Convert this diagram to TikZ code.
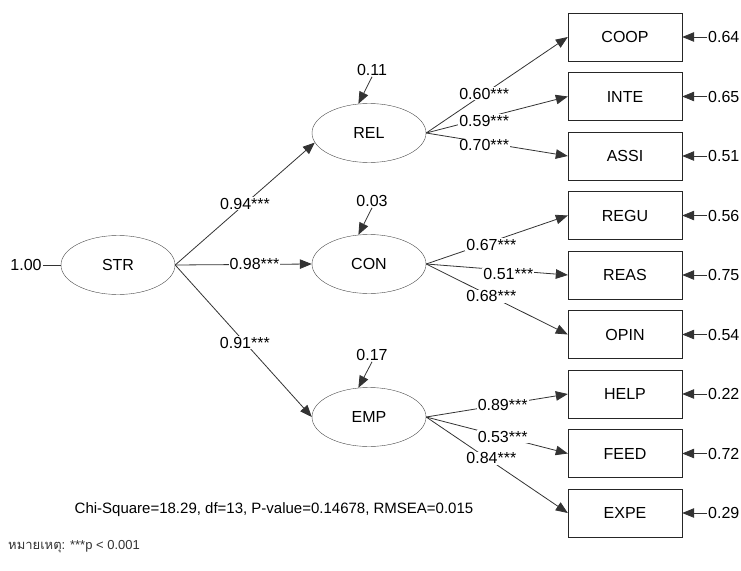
\documentclass[tikz,border=0pt]{standalone}
\usepackage{fontspec}
\setmainfont{Liberation Sans}
\newfontfamily\thaifont[Script=Thai]{Loma}
\usetikzlibrary{arrows.meta,shapes.geometric}

\begin{document}
\begin{tikzpicture}[x=1pt,y=-1pt,
    font=\fontsize{16}{19}\selectfont,
    latent/.style={draw=black!70,ellipse,minimum width=114pt,minimum height=59pt,inner sep=0pt},
    indic/.style={draw=black!85,rectangle,minimum width=114pt,minimum height=48pt,inner sep=0pt},
    arr/.style={-{Triangle[length=12pt,width=9.5pt]},draw=black!80,line width=0.8pt},
    coef/.style={fill=white,inner sep=1pt}]

	\useasboundingbox (0,0) rectangle (741,570);

            % latent variables
            \node[latent] (STR) at (118,265) {STR};
            \node[latent] (REL) at (369,133) {REL};
            \node[latent] (CON) at (369,264) {CON};
            \node[latent] (EMP) at (369,417) {EMP};

            \node[inner sep=1pt] (eSTR) at (26,265) {1.00};
            \draw[draw=black!80,line width=0.8pt] (eSTR) -- (STR);

            \foreach \lat/\y/\val in {REL/70/0.11,CON/201/0.03,EMP/355/0.17}{
              \node[inner sep=1pt] (d\lat) at (372,\y) {\val};
              \draw[arr] (d\lat.south) -- (\lat.110);
            }

            % observed variables
            \foreach \name/\y/\err in {COOP/37/0.64,INTE/96.5/0.65,ASSI/156/0.51,REGU/215.5/0.56,REAS/275/0.75,OPIN/334.5/0.54,HELP/394/0.22,FEED/453.5/0.72,EXPE/513/0.29}{
              \node[indic] (\name) at (625,\y) {\name};
              \node[anchor=west,inner sep=1pt] (e\name) at (707,\y) {\err};
              \draw[arr] (e\name.west) -- (\name.east);
            }

            \draw[arr] (STR.east) -- node[coef,pos=0.5]{0.94***} (REL.190);
            \draw[arr] (STR.east) -- node[coef,pos=0.58]{0.98***} (CON.west);
            \draw[arr] (STR.east) -- node[coef,pos=0.51]{0.91***} (EMP.west);

            \draw[arr] (REL.east) -- node[coef,pos=0.41]{0.60***} (COOP.west);
            \draw[arr] (REL.east) -- node[coef,pos=0.41,yshift=-3pt]{0.59***} (INTE.west);
            \draw[arr] (REL.east) -- node[coef,pos=0.41,yshift=-3pt]{0.70***} (ASSI.west);

            \draw[arr] (CON.east) -- node[coef,pos=0.46,yshift=-3pt]{0.67***} (REGU.west);
            \draw[arr] (CON.east) -- node[coef,pos=0.58,yshift=-4pt]{0.51***} (REAS.west);
            \draw[arr] (CON.east) -- node[coef,pos=0.46]{0.68***} (OPIN.west);

            \draw[arr] (EMP.east) -- node[coef,pos=0.54]{0.89***} (HELP.west);
            \draw[arr] (EMP.east) -- node[coef,pos=0.54]{0.53***} (FEED.west);
            \draw[arr] (EMP.east) -- node[coef,pos=0.46,yshift=3pt]{0.84***} (EXPE.west);

            % fit indices and note
            \node[font=\fontsize{15}{18}\selectfont] (fit) at (274,510) {Chi-Square=18.29, df=13, P-value=0.14678, RMSEA=0.015};
            \node[anchor=west,inner sep=0pt,text=black!80,font=\fontsize{13}{15}\selectfont] (note) at (8,547) {{\thaifont หมายเหตุ}: ***p < 0.001};

        \end{tikzpicture}
\end{document}
